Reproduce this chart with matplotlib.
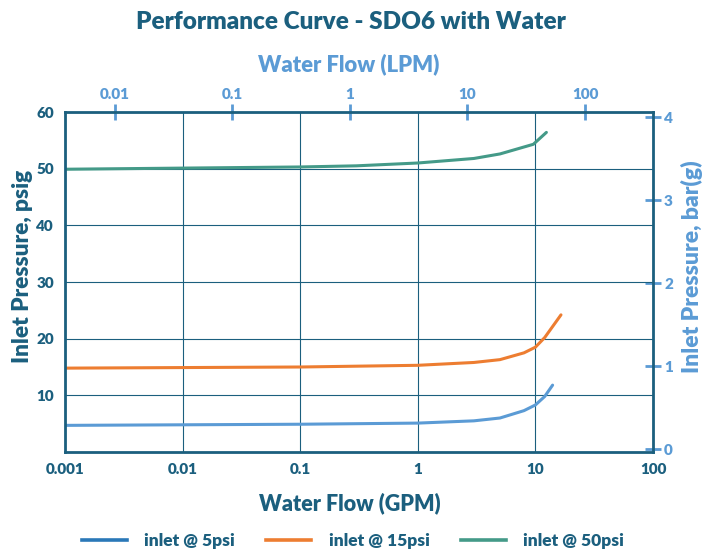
import matplotlib
matplotlib.use("Agg")
import matplotlib.pyplot as plt
from matplotlib.lines import Line2D

plt.rcParams['font.family'] = ['Lato', 'DejaVu Sans']
plt.rcParams['font.weight'] = 'bold'

DARK = '#1b5f7e'
LIGHT = '#5b9bd5'

# GPM flow values and psig inlet pressure
flow_5 = [0.001, 0.01, 0.1, 1, 3, 5, 8, 10, 12, 14]
psi_5 = [4.7, 4.8, 4.9, 5.1, 5.5, 6.0, 7.3, 8.3, 9.8, 11.8]
flow_15 = [0.001, 0.01, 0.1, 1, 3, 5, 8, 10, 12, 16.5]
psi_15 = [14.8, 14.9, 15.0, 15.3, 15.8, 16.3, 17.5, 18.5, 20.2, 24.2]
flow_50 = [0.001, 0.01, 0.1, 0.3, 1, 3, 5, 9.6, 12.4]
psi_50 = [49.9, 50.1, 50.3, 50.5, 51.0, 51.8, 52.6, 54.3, 56.4]

labels = ['inlet @ 5psi', 'inlet @ 15psi', 'inlet @ 50psi']
colors = ['#5b9bd5', '#ed7d31', '#449a88']
legend_colors = ['#2a78b8', '#ed7d31', '#449a88']

x_ticks = [0.001, 0.01, 0.1, 1, 10, 100]
x_tick_labels = ['0.001', '0.01', '0.1', '1', '10', '100']
y_ticks = [10, 20, 30, 40, 50, 60]
lpm_ticks = [0.01, 0.1, 1, 10, 100]
lpm_tick_labels = ['0.01', '0.1', '1', '10', '100']
bar_ticks = [0, 1, 2, 3, 4]

GPM2LPM = 3.78541
BAR_A, BAR_B = 0.0683, -0.036   # bar = A*psi + B as drawn on the chart

fig = plt.figure(figsize=(7.17, 5.58), dpi=100)
ax = fig.add_axes([65/717, 1 - 452/558, 588/717, 340/558])

for fx, py, c, l in zip([flow_5, flow_15, flow_50], [psi_5, psi_15, psi_50], colors, labels):
    ax.plot(fx, py, color=c, lw=2.2, label=l, solid_capstyle='round')

ax.set_xscale('log')
ax.set_xlim(0.001, 100)
ax.set_ylim(0, 60)
ax.set_xticks(x_ticks)
ax.set_xticklabels(x_tick_labels)
ax.minorticks_off()
ax.set_yticks(y_ticks)
ax.tick_params(axis='both', length=0, colors=DARK, labelsize=11, pad=8)
for t in ax.get_xticklabels() + ax.get_yticklabels():
    t.set_fontweight('heavy')
ax.grid(True, which='major', color=DARK, lw=0.8)
for sp in ax.spines.values():
    sp.set_color(DARK)
    sp.set_linewidth(2)
ax.set_axisbelow(True)

ax.set_xlabel('Water Flow (GPM)', color=DARK, fontsize=15.5, fontweight='heavy', labelpad=12)
ax.xaxis.label.set_x(0.485)
ax.set_ylabel('Inlet Pressure, psig', color=DARK, fontsize=16.3, fontweight='heavy', labelpad=2)
ax.yaxis.label.set_y(0.547)

top = ax.secondary_xaxis('top', functions=(lambda x: x * GPM2LPM, lambda x: x / GPM2LPM))
top.set_xticks(lpm_ticks)
top.set_xticklabels(lpm_tick_labels)
top.minorticks_off()
top.tick_params(axis='x', direction='inout', length=12, width=2, colors=LIGHT, labelsize=11, pad=2)
top.spines['top'].set_visible(False)
for t in top.get_xticklabels():
    t.set_fontweight('heavy')
top.set_xlabel('Water Flow (LPM)', color=LIGHT, fontsize=15.8, fontweight='heavy', labelpad=12)
top.xaxis.label.set_x(0.483)

right = ax.secondary_yaxis('right', functions=(lambda y: BAR_A * y + BAR_B, lambda b: (b - BAR_B) / BAR_A))
right.set_yticks(bar_ticks)
right.tick_params(axis='y', direction='inout', length=12, width=2, colors=LIGHT, labelsize=11, pad=2)
right.spines['right'].set_visible(False)
for t in right.get_yticklabels():
    t.set_fontweight('heavy')
right.set_ylabel('Inlet Pressure, bar(g)', color=LIGHT, fontsize=16.5, fontweight='heavy', labelpad=6)
right.yaxis.label.set_y(0.545)

fig.suptitle('Performance Curve - SDO6 with Water', x=0.49, y=0.98, color=DARK, fontsize=17.5, fontweight='heavy')

handles = [Line2D([], [], color=c, lw=2.6) for c in legend_colors]
leg = fig.legend(handles, labels, loc='lower center', bbox_to_anchor=(0.492, -0.012), ncol=3, frameon=False,
                 fontsize=12.5, handlelength=2.6, columnspacing=1.8, handletextpad=1.0)
for t in leg.get_texts():
    t.set_color(DARK)
    t.set_fontweight('heavy')

fig.savefig('out.png', dpi=100)
